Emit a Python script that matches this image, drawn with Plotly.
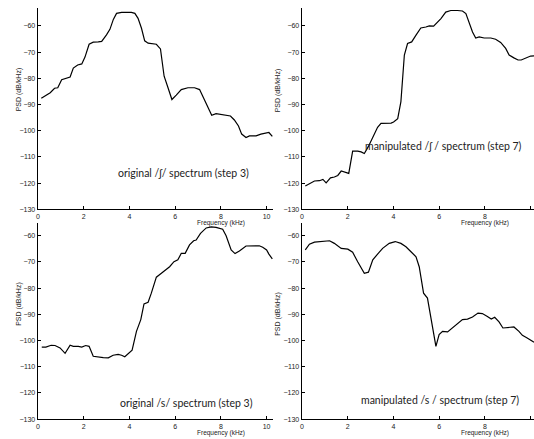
import plotly.graph_objects as go

W, H = 534, 439

# ---- data (kHz, dB/kHz) ----
f_sh_orig = [0.15, 0.32, 0.54, 0.73, 0.87, 1.04, 1.22, 1.41, 1.55, 1.74, 1.92, 2.06, 2.24, 2.42, 2.64, 2.79,
             3.0, 3.15, 3.3, 3.44, 3.66, 3.88, 4.09, 4.24, 4.38, 4.53, 4.67, 4.82, 5.04, 5.18, 5.36, 5.52,
             5.69, 5.86, 6.05, 6.27, 6.56, 6.85, 7.07, 7.21, 7.43, 7.6, 7.79, 8.08, 8.42, 8.59, 8.77, 8.91,
             9.1, 9.25, 9.54, 9.75, 10.0, 10.1, 10.25]
p_sh_orig = [-87.6, -86.8, -85.5, -83.8, -83.6, -80.5, -80.1, -79.5, -76.1, -74.9, -74.5, -71.9, -67.0, -66.2,
             -66.1, -65.9, -63.4, -61.3, -57.5, -55.2, -54.8, -54.8, -54.8, -55.2, -57.1, -60.9, -65.7, -66.6,
             -66.8, -67.0, -68.8, -79.2, -83.6, -88.1, -86.4, -84.3, -83.6, -83.6, -84.3, -86.8, -91.2, -94.1,
             -93.5, -93.8, -94.4, -95.9, -98.2, -101.3, -102.6, -102.0, -102.0, -101.3, -100.7, -100.7, -102.2]

f_sh_manip = [0.15, 0.33, 0.55, 0.77, 0.92, 1.06, 1.25, 1.42, 1.57, 1.72, 1.93, 2.05, 2.22, 2.44, 2.59, 2.73,
              2.91, 3.1, 3.31, 3.46, 3.68, 3.9, 4.01, 4.19, 4.33, 4.48, 4.62, 4.8, 4.99, 5.2, 5.42, 5.57, 5.76,
              5.93, 6.08, 6.29, 6.51, 6.8, 7.02, 7.17, 7.31, 7.46, 7.6, 7.75, 7.97, 8.26, 8.47, 8.69, 8.91,
              9.06, 9.27, 9.45, 9.59, 9.78, 10.0, 10.2]
p_sh_manip = [-121.1, -120.1, -119.2, -119.1, -118.6, -119.9, -118.0, -117.7, -117.1, -115.4, -116.1, -116.3,
              -107.8, -107.8, -108.1, -108.7, -106.0, -102.8, -98.7, -97.2, -97.1, -97.1, -96.7, -95.4, -88.9,
              -71.1, -66.7, -66.1, -63.5, -60.8, -60.4, -60.0, -60.1, -58.7, -57.2, -54.7, -54.1, -54.1, -54.3,
              -55.3, -58.5, -62.3, -64.6, -64.2, -64.6, -64.6, -65.1, -66.3, -68.6, -71.1, -72.2, -73.0, -73.0,
              -72.2, -71.5, -71.4]

f_s_orig = [0.17, 0.35, 0.58, 0.75, 0.97, 1.19, 1.41, 1.55, 1.77, 1.92, 2.09, 2.24, 2.42, 2.64, 2.86, 3.08,
            3.29, 3.51, 3.66, 3.8, 3.95, 4.12, 4.31, 4.5, 4.64, 4.82, 4.96, 5.18, 5.4, 5.62, 5.76, 5.95, 6.12,
            6.27, 6.44, 6.63, 6.81, 6.92, 7.11, 7.36, 7.58, 7.79, 8.08, 8.23, 8.45, 8.62, 8.81, 9.1, 9.39,
            9.68, 9.83, 10.0, 10.1, 10.25]
p_s_orig = [-102.5, -102.5, -101.8, -101.9, -102.8, -104.9, -101.8, -102.2, -102.2, -102.5, -101.9, -102.2,
            -106.0, -106.3, -106.5, -106.6, -105.6, -105.3, -105.6, -106.2, -105.1, -103.7, -96.5, -92.0,
            -86.0, -85.4, -81.9, -75.8, -74.3, -72.8, -71.8, -69.9, -69.2, -66.7, -66.7, -63.5, -61.9, -61.6,
            -59.1, -57.0, -56.6, -56.8, -57.5, -60.0, -65.4, -66.8, -65.8, -63.9, -63.9, -63.8, -64.4, -65.4,
            -67.0, -68.8]

f_s_manip = [0.15, 0.33, 0.55, 0.84, 1.21, 1.42, 1.72, 2.01, 2.22, 2.44, 2.73, 2.91, 3.1, 3.31, 3.53, 3.82,
             4.08, 4.33, 4.55, 4.77, 4.99, 5.13, 5.32, 5.49, 5.67, 5.86, 6.0, 6.15, 6.37, 6.58, 6.8, 7.02, 7.24,
             7.46, 7.7, 7.89, 8.11, 8.28, 8.43, 8.62, 8.79, 9.0, 9.27, 9.49, 9.64, 9.85, 10.15]
p_s_manip = [-65.4, -63.2, -62.4, -62.3, -61.9, -62.9, -64.8, -65.1, -66.3, -69.9, -74.3, -73.9, -69.2, -67.0,
             -64.8, -62.9, -62.2, -62.9, -64.2, -66.1, -68.0, -71.8, -81.9, -83.8, -93.3, -102.2, -97.7, -96.5,
             -96.7, -95.2, -93.9, -92.0, -91.8, -91.0, -89.5, -89.7, -90.8, -91.8, -91.1, -92.9, -95.2, -94.9,
             -94.8, -96.5, -98.0, -99.0, -100.6]

x_ticks = [0, 2, 4, 6, 8, 10]
y_ticks = [-130, -120, -110, -100, -90, -80, -70, -60]

labels = ["original /ʃ/ spectrum (step 3)",
          "manipulated /ʃ / spectrum (step 7)",
          "original /s/ spectrum (step 3)",
          "manipulated /s / spectrum (step 7)"]
x_title = "Frequency (kHz)"
y_title = "PSD (dB/kHz)"

# ---- layout geometry (pixels) ----
def px_x(p):
    return p / W

def px_y(p):
    return (H - p) / H

PXK = 22.96   # px per kHz
PXD = 2.637   # px per dB

panels = [
    dict(f=f_sh_orig, p=p_sh_orig, x0=36, x1=272, yt=8, yb=210.7, lab=labels[0], lx=182, ly=174, yl_x=17, yl_y=90, xt_y=225),
    dict(f=f_sh_manip, p=p_sh_manip, x0=301, x1=534, yt=8, yb=210.7, lab=labels[1], lx=443, ly=147, yl_x=277, yl_y=91, xt_y=225),
    dict(f=f_s_orig, p=p_s_orig, x0=36, x1=272, yt=225, yb=422, lab=labels[2], lx=185, ly=405.5, yl_x=17, yl_y=306, xt_y=436.3),
    dict(f=f_s_manip, p=p_s_manip, x0=301, x1=534, yt=225, yb=422, lab=labels[3], lx=440, ly=403, yl_x=277, yl_y=316, xt_y=436.3),
]

fig = go.Figure()
layout = dict(width=W, height=H, autosize=False, margin=dict(l=0, r=0, t=0, b=0, pad=0),
              paper_bgcolor="white", plot_bgcolor="white", showlegend=False)
annotations = []
tickfont = dict(family="Liberation Sans, Arial, sans-serif", size=7, color="#222")

for i, pn in enumerate(panels, start=1):
    xa = "xaxis" if i == 1 else f"xaxis{i}"
    ya = "yaxis" if i == 1 else f"yaxis{i}"
    xr = "x" if i == 1 else f"x{i}"
    yr = "y" if i == 1 else f"y{i}"
    fig.add_trace(go.Scatter(x=pn["f"], y=pn["p"], mode="lines", xaxis=xr, yaxis=yr,
                             line=dict(color="black", width=1.2), hoverinfo="skip"))
    xmax = (pn["x1"] - pn["x0"]) / PXK
    ymax = -130 + (pn["yb"] - pn["yt"]) / PXD
    layout[xa] = dict(domain=[px_x(pn["x0"]), px_x(pn["x1"])], range=[0, xmax], anchor=yr,
                      tickvals=x_ticks, ticks="inside", ticklen=3, tickcolor="black",
                      showline=True, linecolor="black", linewidth=1.4, showgrid=False, zeroline=False,
                      tickfont=tickfont, ticklabelstandoff=0)
    layout[ya] = dict(domain=[px_y(pn["yb"]), px_y(pn["yt"])], range=[-130, ymax], anchor=xr,
                      tickvals=y_ticks, ticks="inside", ticklen=3, tickcolor="black",
                      showline=True, linecolor="black", linewidth=1.4, showgrid=False, zeroline=False,
                      tickfont=tickfont, ticklabelstandoff=0)
    annotations.append(dict(text=pn["lab"], xref="paper", yref="paper", x=px_x(pn["lx"]), y=px_y(pn["ly"]),
                            showarrow=False, xanchor="center", yanchor="middle",
                            font=dict(family="Lato, Carlito, sans-serif", size=10.5, color="#222")))
    annotations.append(dict(text=y_title, xref="paper", yref="paper", x=px_x(pn["yl_x"]), y=px_y(pn["yl_y"]),
                            showarrow=False, textangle=-90, xanchor="center", yanchor="middle",
                            font=dict(family="Liberation Sans, Arial, sans-serif", size=7, color="#222")))
    annotations.append(dict(text=x_title, xref=xr, yref="paper", x=8, y=px_y(pn["xt_y"]),
                            showarrow=False, xanchor="center", yanchor="middle",
                            font=dict(family="Liberation Sans, Arial, sans-serif", size=6.5, color="#222")))

layout["annotations"] = annotations
fig.update_layout(**layout)
fig.write_html("out.html", config={"displayModeBar": False},
               post_script="document.body.style.margin='0px';document.body.style.padding='0px';")
